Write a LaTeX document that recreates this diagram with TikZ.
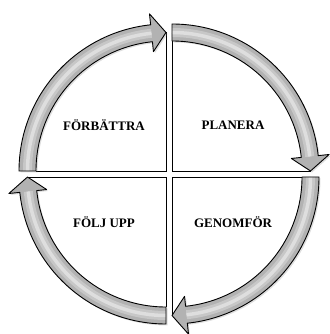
\documentclass[tikz,border=0pt]{standalone}
\usepackage{fontspec}
\setmainfont{Liberation Serif}
\usetikzlibrary{shadows}
\tikzset{
  bandfill/.style={fill=black!30,drop shadow={opacity=0.25,shadow xshift=1.5pt,shadow yshift=-1.5pt}},
  bandline/.style={draw=black,line width=0.9pt,line join=round},
  steptext/.style={font=\bfseries\fontsize{13}{15}\selectfont}
}
\begin{document}
\begin{tikzpicture}[x=1pt,y=1pt]
\useasboundingbox (0,0) rectangle (329,334);
\foreach \cx/\cy/\s/\e in {166/163/180/90, 172/163/90/0, 172/157/0/-90, 166/157/-90/-180}{
  \begin{scope}[shift={(\cx,\cy)}]
  \pgfmathsetmacro{\b}{\e+6}
  \draw[line width=0.9pt] (\s:130) -- (0,0) -- (\e:138.5);
  \path[bandfill] (\s:147) arc[start angle=\s, end angle=\b, radius=147] -- (\b:158) -- (\e:138.5) -- (\b:120) -- (\b:130) arc[start angle=\b, end angle=\s, radius=130] -- cycle;
  \draw[black!22,line width=9pt] (\s:138.5) arc[start angle=\s, end angle=\b, radius=138.5];
  \draw[black!13,line width=3.5pt] (\s:138.5) arc[start angle=\s, end angle=\b, radius=138.5];
  \draw[bandline] (\s:147) arc[start angle=\s, end angle=\b, radius=147] -- (\b:158) -- (\e:138.5) -- (\b:120) -- (\b:130) arc[start angle=\b, end angle=\s, radius=130] -- cycle;
  \end{scope}
}
\node[steptext] (forbattra) at (104,209) {FÖRBÄTTRA};
\node[steptext] (planera) at (233,209) {PLANERA};
\node[steptext] (foljupp) at (104,112) {FÖLJ UPP};
\node[steptext] (genomfor) at (233,112) {GENOMFÖR};
\end{tikzpicture}
\end{document}
